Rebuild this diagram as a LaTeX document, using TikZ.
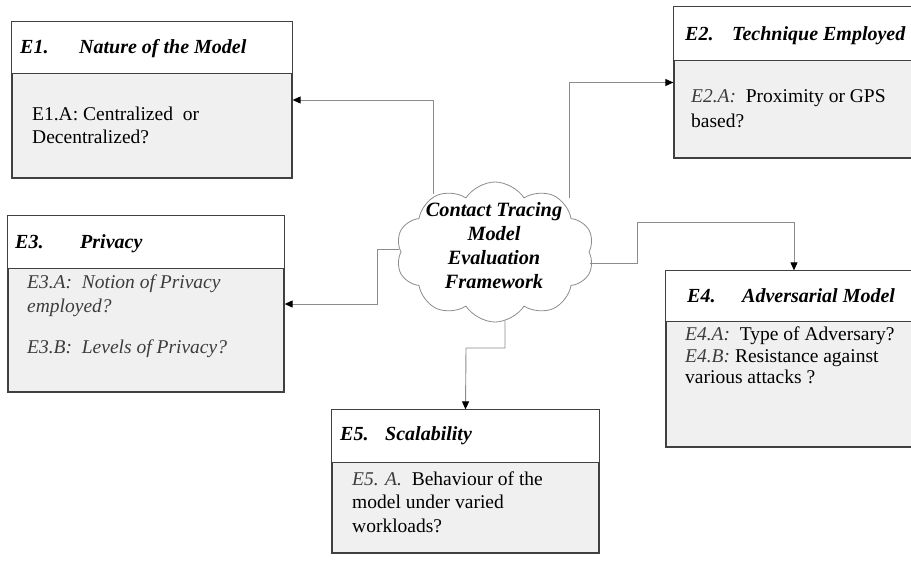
\documentclass[tikz,border=0pt]{standalone}
\usepackage{fontspec}
\setmainfont{Liberation Serif}
\usetikzlibrary{shapes.symbols,arrows.meta}
\definecolor{boxline}{RGB}{64,64,64}
\definecolor{bodyfill}{RGB}{240,240,240}
\definecolor{connline}{RGB}{140,140,140}
\definecolor{pref}{RGB}{60,60,60}
\tikzset{
  boxbody/.style={draw=boxline, line width=1.3pt, fill=bodyfill, rectangle, inner sep=0pt},
  hdrfill/.style={draw=boxline, line width=1.3pt, fill=white},
  hdr/.style={anchor=base west, inner sep=0pt, font=\fontsize{20}{23}\selectfont\bfseries\itshape},
  txt/.style={anchor=base west, inner sep=0pt, font=\fontsize{19.5}{23}\selectfont},
  ctxt/.style={anchor=base, inner sep=0pt, font=\fontsize{20.3}{24}\selectfont\bfseries\itshape},
  conn/.style={draw=connline, line width=0.9pt, -{Triangle[length=8pt,width=7pt,color=black]}},
}
\newcommand{\pf}[1]{\textcolor{pref}{\itshape #1}}
\begin{document}
\begin{tikzpicture}[x=1pt,y=-1pt]
\useasboundingbox (0,0) rectangle (911,563);
\clip (0,0) rectangle (911,563);
% boxes
\node[boxbody, minimum width=280pt, minimum height=156pt] (e1) at (152,100) {};
\draw[hdrfill] (e1.north west) rectangle ([yshift=-52pt]e1.north east);
\node[boxbody, minimum width=248pt, minimum height=151pt] (e2) at (798,82.5) {};
\draw[hdrfill] (e2.north west) rectangle ([yshift=-54pt]e2.north east);
\node[boxbody, minimum width=276pt, minimum height=176pt] (e3) at (146,304) {};
\draw[hdrfill] (e3.north west) rectangle ([yshift=-53pt]e3.north east);
\node[boxbody, minimum width=256pt, minimum height=176pt] (e4) at (794,359) {};
\draw[hdrfill] (e4.north west) rectangle ([yshift=-51pt]e4.north east);
\node[boxbody, minimum width=267pt, minimum height=143pt] (e5) at (465.5,481.5) {};
\draw[hdrfill] (e5.north west) rectangle ([yshift=-53pt]e5.north east);
% headers
\node[hdr] (h1) at (20,53) {\makebox[59pt][l]{E1.}Nature of the Model};
\node[hdr] (h2) at (685,40) {\makebox[47pt][l]{E2.}Technique Employed};
\node[hdr] (h3) at (15,248) {\makebox[65pt][l]{E3.}Privacy};
\node[hdr] (h4) at (687,302) {\makebox[55pt][l]{E4.}Adversarial Model};
\node[hdr] (h5) at (340,440) {\makebox[45pt][l]{E5.}Scalability};
% bodies
\node[txt] (b11) at (32,120) {E1.A: Centralized\ \ or};
\node[txt] (b12) at (32,143) {Decentralized?};
\node[txt] (b21) at (691,102) {\pf{E2.A:}\ \ Proximity or GPS};
\node[txt] (b22) at (691,127) {based?};
\node[txt] (b31) at (27,288) {\pf{E3.A:\ \ Notion of Privacy}};
\node[txt] (b32) at (27,312) {\pf{employed?}};
\node[txt] (b33) at (27,353) {\pf{E3.B:\ \ Levels of Privacy?}};
\node[txt] (b41) at (685,340) {\pf{E4.A:}\ \ Type of Adversary?};
\node[txt] (b42) at (685,362) {\pf{E4.B:} Resistance against};
\node[txt] (b43) at (685,383) {various attacks ?};
\node[txt] (b51) at (352,485) {\pf{E5. A.}\ \ Behaviour of the};
\node[txt] (b52) at (352,508) {model under varied};
\node[txt] (b53) at (352,532) {workloads?};
% cloud
\node[cloud, draw=connline, fill=white, line width=0.8pt, cloud puffs=10, cloud puff arc=115, aspect=1.4, minimum width=198pt, minimum height=140pt, inner sep=0pt] (cloud) at (495,252) {};
\node[ctxt] (ct1) at (494,216) {Contact Tracing};
\node[ctxt] (ct2) at (494,240) {Model};
\node[ctxt] (ct3) at (494,264) {Evaluation};
\node[ctxt] (ct4) at (494,288) {Framework};
% connector anchors
\coordinate (s1) at (433,194);
\coordinate (s2) at (569,198);
\coordinate (s3) at (399,249);
\coordinate (b3) at (377,249);
\coordinate (s4) at (590,263);
\coordinate (b4) at (637,222);
\coordinate (s5) at (505,321);
\coordinate (b5) at (466,348);
\draw[conn] (s1) |- (e1.east);
\draw[conn] (s2) |- (e2.west);
\draw[conn] (s3) -- (b3) |- (e3.east);
\draw[conn] (s4) -| (b4) -| (e4.north);
\draw[conn] (s5) |- (b5) -- (e5.north);
\end{tikzpicture}
\end{document}
